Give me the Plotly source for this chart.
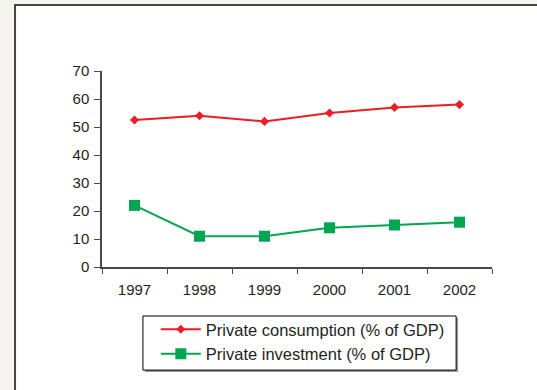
import plotly.graph_objects as go

years = ["1997", "1998", "1999", "2000", "2001", "2002"]
consumption = [52.5, 54, 52, 55, 57, 58]
investment = [22, 11, 11, 14, 15, 16]
y_ticks = [0, 10, 20, 30, 40, 50, 60, 70]

RED = "#ee1c25"
GREEN = "#00a651"
TEXT = "#231f20"
AXIS = "#4a4a4a"

fig = go.Figure()
fig.add_trace(go.Scatter(
    x=years, y=consumption, mode="lines+markers",
    name="Private consumption (% of GDP)",
    line=dict(color=RED, width=2),
    marker=dict(symbol="diamond", size=7, color=RED),
))
fig.add_trace(go.Scatter(
    x=years, y=investment, mode="lines+markers",
    name="Private investment (% of GDP)",
    line=dict(color=GREEN, width=2),
    marker=dict(symbol="square", size=11, color=GREEN),
))

# white panel with dark frame on the beige page
fig.add_shape(type="rect", xref="paper", yref="paper",
              x0=-0.223, x1=1.13, y0=-0.66, y1=1.337,
              fillcolor="white", line=dict(color="#444444", width=2),
              layer="below")
# legend frame with a soft drop shadow
fig.add_shape(type="rect", xref="paper", yref="paper",
              x0=0.110, x1=0.913, y0=-0.536, y1=-0.260,
              fillcolor="#9a9a9a", line=dict(width=0), layer="below")
fig.add_shape(type="rect", xref="paper", yref="paper",
              x0=0.105, x1=0.908, y0=-0.526, y1=-0.250,
              fillcolor="white", line=dict(color="#000000", width=1),
              layer="below")

fig.update_layout(
    width=537, height=390,
    margin=dict(l=102, r=45, t=71, b=123),
    paper_bgcolor="#f6f4ee",
    plot_bgcolor="rgba(0,0,0,0)",
    font=dict(family="Liberation Sans, Arial, sans-serif", size=15, color=TEXT),
    showlegend=True,
    legend=dict(
        x=0.138, y=-0.23, xanchor="left", yanchor="top",
        bgcolor="rgba(0,0,0,0)", borderwidth=0,
        font=dict(size=16.5, color=TEXT),
        itemwidth=40, tracegroupgap=0,
    ),
)
fig.update_xaxes(
    type="category", range=[-0.5, 5.5],
    showline=True, linecolor=AXIS, linewidth=1.5,
    ticks="outside", tickson="boundaries", ticklen=5, tickcolor=AXIS,
    ticklabelstandoff=8,
    showgrid=False, zeroline=False,
)
fig.update_yaxes(
    range=[0, 70], tickvals=y_ticks,
    showline=True, linecolor=AXIS, linewidth=1.5,
    ticks="outside", ticklen=6, tickcolor=AXIS,
    ticklabelstandoff=2,
    showgrid=False, zeroline=False,
)

fig.write_html("out.html")
